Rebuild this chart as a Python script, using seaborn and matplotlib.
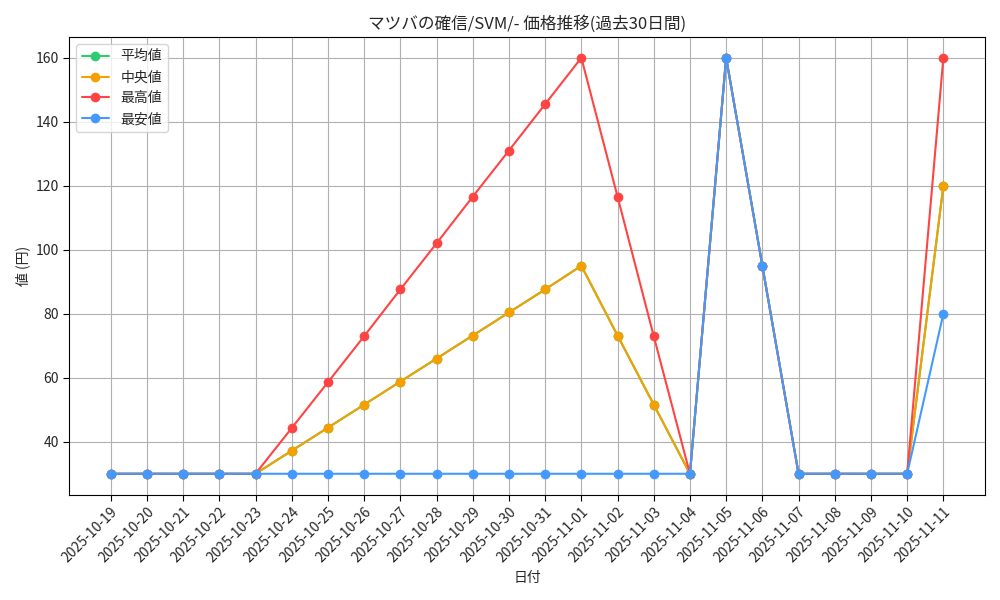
import matplotlib
matplotlib.use("Agg")
import matplotlib.pyplot as plt
import pandas as pd
import seaborn as sns

dates = pd.date_range("2025-10-19", "2025-11-11").strftime("%Y-%m-%d").tolist()
max_vals = [30, 30, 30, 30, 30, 44.3, 58.6, 73, 87.6, 102, 116.6, 131, 145.5, 160,
            116.6, 73, 30, 160, 95, 30, 30, 30, 30, 160]
median_vals = [30, 30, 30, 30, 30, 37.2, 44.4, 51.6, 58.8, 66, 73.2, 80.4, 87.6, 95,
               73.2, 51.6, 30, 160, 95, 30, 30, 30, 30, 120]
mean_vals = list(median_vals)
min_vals = [30] * 17 + [160, 95, 30, 30, 30, 30, 80]

series = [("平均値", mean_vals, "#2ecc71"),
          ("中央値", median_vals, "#f5a000"),
          ("最高値", max_vals, "#ff4444"),
          ("最安値", min_vals, "#4499ff")]

sns.set_style("white")
plt.rcParams['font.family'] = ['Noto Sans CJK JP', 'DejaVu Sans']

fig, ax = plt.subplots(figsize=(10, 6), dpi=100)
for name, vals, color in series:
    df = pd.DataFrame({"date": dates, "value": vals})
    sns.lineplot(data=df, x="date", y="value", ax=ax, color=color, marker="o",
                 markersize=7, markeredgewidth=0, linewidth=1.5, label=name, sort=False)

ax.set_title("マツバの確信/SVM/- 価格推移(過去30日間)", fontsize=12)
ax.set_xlabel("日付")
ax.set_ylabel("値 (円)")
ax.grid(True, color="#b0b0b0", linewidth=0.8)
for s in ax.spines.values():
    s.set_color("black")
ax.tick_params(axis="both", length=4, color="black", left=True, bottom=True)
plt.setp(ax.get_xticklabels(), rotation=45, ha="right", rotation_mode="anchor")
ax.legend(loc="upper left")
fig.tight_layout()
fig.savefig("out.png")
